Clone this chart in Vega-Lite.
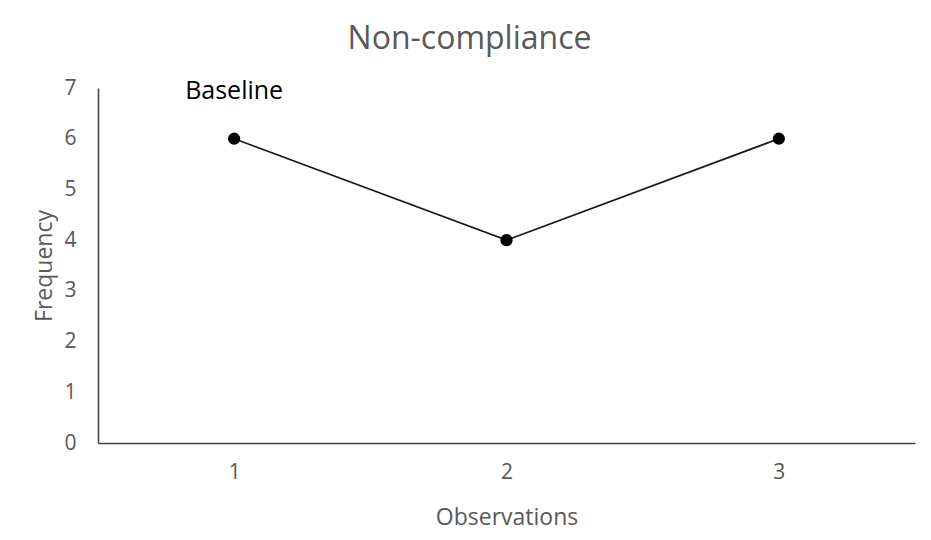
{
  "$schema": "https://vega.github.io/schema/vega-lite/v6.json",
  "autosize": {"type": "none"},
  "width": 817,
  "height": 355,
  "padding": {"left": 98, "top": 88, "right": 16, "bottom": 97},
  "background": "white",
  "config": {
    "view": {"stroke": null},
    "font": "Open Sans"
  },
  "title": {
    "text": "Non-compliance",
    "fontSize": 32,
    "fontWeight": "normal",
    "color": "#595959",
    "font": "Open Sans",
    "offset": 21,
    "dx": -37
  },
  "datasets": {
    "obs": [
      {"observation": "1", "frequency": 6},
      {"observation": "2", "frequency": 4},
      {"observation": "3", "frequency": 6}
    ],
    "notes": [
      {"observation": "1", "frequency": 7, "label": "Baseline"}
    ]
  },
  "encoding": {
    "x": {
      "field": "observation",
      "type": "ordinal",
      "scale": {"type": "point", "padding": 0.5, "domain": ["1", "2", "3"]},
      "axis": {
        "title": "Observations",
        "labelAngle": 0,
        "ticks": false,
        "grid": false,
        "domainColor": "#404040",
        "domainWidth": 1.5,
        "labelColor": "#595959",
        "labelFontSize": 21,
        "labelPadding": 18,
        "titleColor": "#595959",
        "titleFontSize": 23,
        "titleFontWeight": "normal",
        "titlePadding": 24
      }
    },
    "y": {
      "field": "frequency",
      "type": "quantitative",
      "scale": {"domain": [0, 7], "nice": false},
      "axis": {
        "title": "Frequency",
        "values": [0, 1, 2, 3, 4, 5, 6, 7],
        "ticks": false,
        "grid": false,
        "domainColor": "#404040",
        "domainWidth": 1.5,
        "labelColor": "#595959",
        "labelFontSize": 21,
        "labelPadding": 22,
        "titleColor": "#595959",
        "titleFontSize": 23,
        "titleFontWeight": "normal",
        "titlePadding": 7
      }
    }
  },
  "layer": [
    {
      "data": {"name": "obs"},
      "mark": {"type": "line", "color": "#1a1a1a", "strokeWidth": 1.75}
    },
    {
      "data": {"name": "obs"},
      "mark": {"type": "circle", "color": "black", "opacity": 1, "size": 150}
    },
    {
      "data": {"name": "notes"},
      "mark": {"type": "text", "color": "black", "fontSize": 25, "font": "Open Sans", "baseline": "middle", "align": "center", "dy": 3},
      "encoding": {"text": {"field": "label"}}
    }
  ]
}
